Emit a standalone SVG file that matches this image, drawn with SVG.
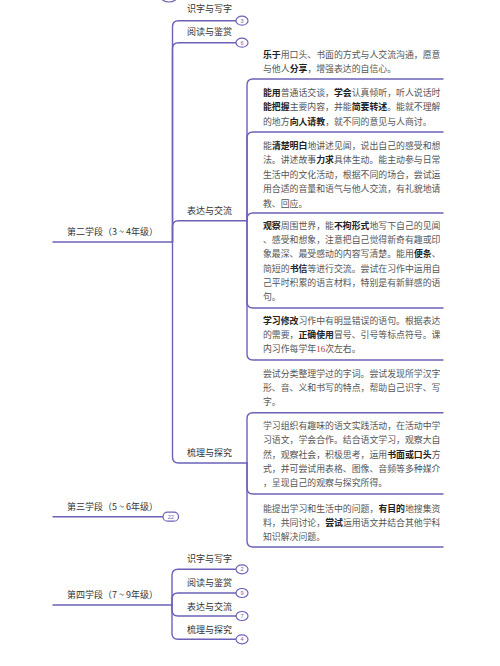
<svg xmlns="http://www.w3.org/2000/svg" width="500" height="666" viewBox="0 0 500 666">
<style>
.ln{fill:none;stroke:#6b62b8;stroke-width:1.4;stroke-linecap:round}
.bd{fill:#fff;stroke:#6b62b8;stroke-width:1.2}
.bt{font-family:"Liberation Sans","Noto Sans CJK SC",sans-serif;font-size:5.5px;fill:#6b62b8;text-anchor:middle}
.lb{font-family:"Noto Sans CJK SC",sans-serif;font-size:9px;fill:#333}
.tx{font-family:"Noto Sans CJK SC",sans-serif;font-size:8.9px;fill:#555}
.b{font-weight:bold;fill:#222}
.r{fill:#c0392b;font-family:"Liberation Serif",serif}
</style>
<rect width="500" height="666" fill="#fff"/>
<g id="connectors">
<path class="ln" d="M53 242 H172.5"/>
<path class="ln" d="M172.5 242 V26.7 Q172.5 20.7 178.5 20.7 H236"/>
<path class="ln" d="M172.5 242 V48.7 Q172.5 42.7 178.5 42.7 H236"/>
<path class="ln" d="M172.5 242 V226.7 Q172.5 220.7 178.5 220.7 H247"/>
<path class="ln" d="M172.5 242 V457 Q172.5 463 178.5 463 H247"/>
<path class="ln" d="M247 220.7 V85 Q247 79 253 79 H443"/>
<path class="ln" d="M247 220.7 V138 Q247 132 253 132 H443"/>
<path class="ln" d="M247 220.7 V219 Q247 213 253 213 H443"/>
<path class="ln" d="M247 220.7 V302 Q247 308 253 308 H443"/>
<path class="ln" d="M247 220.7 V354 Q247 360 253 360 H443"/>
<path class="ln" d="M247 463 V418.7 Q247 412.7 253 412.7 H443"/>
<path class="ln" d="M247 463 V488 Q247 494 253 494 H443"/>
<path class="ln" d="M247 463 V541 Q247 547 253 547 H443"/>
<path class="ln" d="M53 516.7 H163"/>
<path class="ln" d="M53 605 H172"/>
<path class="ln" d="M172 605 V575.3 Q172 569.3 178 569.3 H236"/>
<path class="ln" d="M172 605 V599 Q172 593 178 593 H236"/>
<path class="ln" d="M172 605 V610 Q172 616 178 616 H236"/>
<path class="ln" d="M172 605 V633.3 Q172 639.3 178 639.3 H236"/>
</g>
<g id="top-badge"><ellipse class="bd" cx="169" cy="-3" rx="8" ry="5"/></g>
<g id="stage2">
<text class="lb" x="67" y="235">第二学段（3 ~ 4年级）</text>
</g>
<g id="s2-shizi">
<text class="lb" x="187" y="11.5">识字与写字</text>
<ellipse class="bd" cx="242" cy="20.7" rx="6" ry="4.5"/><text class="bt" x="242" y="22.6">3</text>
</g>
<g id="s2-yuedu">
<text class="lb" x="187" y="34.8">阅读与鉴赏</text>
<ellipse class="bd" cx="242" cy="42.7" rx="6" ry="4.5"/><text class="bt" x="242" y="44.6">6</text>
</g>
<g id="s2-biaoda">
<text class="lb" x="187" y="213.5">表达与交流</text>
</g>
<g id="s2-shuli">
<text class="lb" x="187" y="456">梳理与探究</text>
</g>
<g id="box1">
<text class="tx" x="263" y="57.5"><tspan class="b">乐于</tspan>用口头、书面的方式与人交流沟通，愿意</text>
<text class="tx" x="263" y="72">与他人<tspan class="b">分享</tspan>，增强表达的自信心。</text>
</g>
<g id="box2">
<text class="tx" x="263" y="95.5"><tspan class="b">能用</tspan>普通话交谈，<tspan class="b">学会</tspan>认真倾听，听人说话时</text>
<text class="tx" x="263" y="110"><tspan class="b">能把握</tspan>主要内容，并能<tspan class="b">简要转述</tspan>。能就不理解</text>
<text class="tx" x="263" y="124.5">的地方<tspan class="b">向人请教</tspan>，就不同的意见与人商讨。</text>
</g>
<g id="box3">
<text class="tx" x="263" y="148.5">能<tspan class="b">清楚明白</tspan>地讲述见闻，说出自己的感受和想</text>
<text class="tx" x="263" y="163">法。讲述故事<tspan class="b">力求</tspan>具体生动。能主动参与日常</text>
<text class="tx" x="263" y="177.5">生活中的文化活动，根据不同的场合，尝试运</text>
<text class="tx" x="263" y="192">用合适的音量和语气与他人交流，有礼貌地请</text>
<text class="tx" x="263" y="206.5">教、回应。</text>
</g>
<g id="box4">
<text class="tx" x="263" y="228.5"><tspan class="b">观察</tspan>周围世界，能<tspan class="b">不拘形式</tspan>地写下自己的见闻</text>
<text class="tx" x="263" y="243">、感受和想象，注意把自己觉得新奇有趣或印</text>
<text class="tx" x="263" y="257.3">象最深、最受感动的内容写清楚。能用<tspan class="b">便条</tspan>、</text>
<text class="tx" x="263" y="271.6">简短的<tspan class="b">书信</tspan>等进行交流。尝试在习作中运用自</text>
<text class="tx" x="263" y="286">己平时积累的语言材料，特别是有新鲜感的语</text>
<text class="tx" x="263" y="300.3">句。</text>
</g>
<g id="box5">
<text class="tx" x="263" y="324"><tspan class="b">学习修改</tspan>习作中有明显错误的语句。根据表达</text>
<text class="tx" x="263" y="338">的需要，<tspan class="b">正确使用</tspan>冒号、引号等标点符号。课</text>
<text class="tx" x="263" y="352">内习作每学年<tspan class="r">16</tspan>次左右。</text>
</g>
<g id="box6">
<text class="tx" x="263" y="377">尝试分类整理学过的字词。尝试发现所学汉字</text>
<text class="tx" x="263" y="391">形、音、义和书写的特点，帮助自己识字、写</text>
<text class="tx" x="263" y="405">字。</text>
</g>
<g id="box7">
<text class="tx" x="263" y="429">学习组织有趣味的语文实践活动，在活动中学</text>
<text class="tx" x="263" y="443.3">习语文，学会合作。结合语文学习，观察大自</text>
<text class="tx" x="263" y="457.6">然，观察社会，积极思考，运用<tspan class="b">书面或口头</tspan>方</text>
<text class="tx" x="263" y="472">式，并可尝试用表格、图像、音频等多种媒介</text>
<text class="tx" x="263" y="486.3">，呈现自己的观察与探究所得。</text>
</g>
<g id="box8">
<text class="tx" x="263" y="512">能提出学习和生活中的问题，<tspan class="b">有目的</tspan>地搜集资</text>
<text class="tx" x="263" y="526">料，共同讨论，<tspan class="b">尝试</tspan>运用语文并结合其他学科</text>
<text class="tx" x="263" y="540">知识解决问题。</text>
</g>
<g id="stage3">
<text class="lb" x="67" y="510">第三学段（5 ~ 6年级）</text>
<rect class="bd" x="163" y="512.2" width="15.5" height="9" rx="4.5"/><text class="bt" x="170.7" y="518.6">22</text>
</g>
<g id="stage4">
<text class="lb" x="67" y="598">第四学段（7 ~ 9年级）</text>
</g>
<g id="s4-shizi">
<text class="lb" x="187" y="562">识字与写字</text>
<ellipse class="bd" cx="242" cy="569.3" rx="6" ry="4.5"/><text class="bt" x="242" y="571.2">2</text>
</g>
<g id="s4-yuedu">
<text class="lb" x="187" y="586">阅读与鉴赏</text>
<ellipse class="bd" cx="242" cy="593" rx="6" ry="4.5"/><text class="bt" x="242" y="594.9">9</text>
</g>
<g id="s4-biaoda">
<text class="lb" x="187" y="610">表达与交流</text>
<ellipse class="bd" cx="242" cy="616" rx="6" ry="4.5"/><text class="bt" x="242" y="617.9">7</text>
</g>
<g id="s4-shuli">
<text class="lb" x="187" y="632.5">梳理与探究</text>
<ellipse class="bd" cx="242" cy="639.3" rx="6" ry="4.5"/><text class="bt" x="242" y="641.2">4</text>
</g>
</svg>
